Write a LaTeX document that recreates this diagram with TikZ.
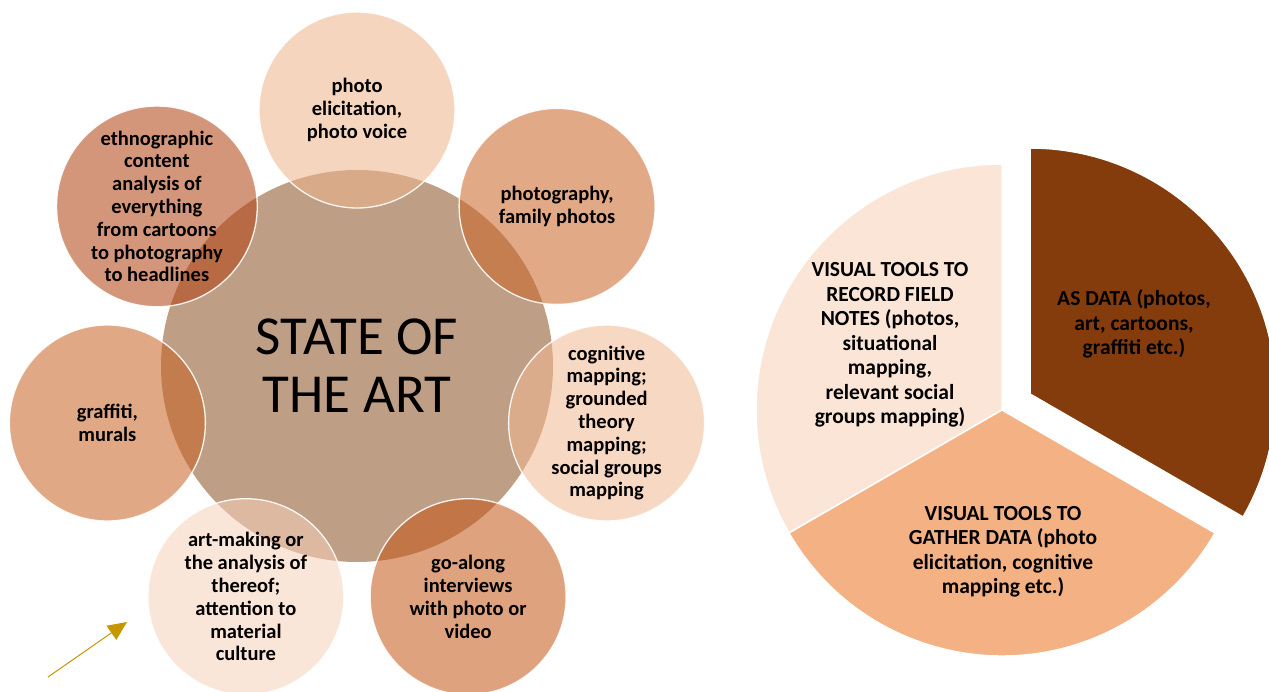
\documentclass[tikz,border=0pt]{standalone}
\usepackage{fontspec}
\setmainfont{Carlito}
\usetikzlibrary{arrows.meta}

% palette
\definecolor{corefill}{HTML}{BF9E86}
\definecolor{cTop}{RGB}{239,180,139}
\definecolor{cPhoto}{RGB}{202,100,35}
\definecolor{cCogn}{RGB}{242,184,144}
\definecolor{cGoAlong}{RGB}{197,86,22}
\definecolor{cArt}{RGB}{246,208,186}
\definecolor{cGraffiti}{RGB}{200,97,31}
\definecolor{cEthno}{RGB}{177,64,13}
\definecolor{pieLight}{HTML}{FBE5D6}
\definecolor{pieMid}{HTML}{F4B183}
\definecolor{pieDark}{HTML}{843C0C}
\definecolor{pointer}{RGB}{198,152,0}

\tikzset{
  core/.style={circle, fill=corefill, minimum size=392pt, inner sep=0pt,
    align=center, font=\fontsize{55}{58}\selectfont},
  satellite/.style={circle, minimum size=196pt, inner sep=0pt, fill=#1,
    fill opacity=0.55, text opacity=1, draw=white, draw opacity=0.9,
    line width=1.3pt, align=center,
    font=\fontsize{20.5}{22.8}\selectfont\bfseries},
  wedge/.style={fill=#1, draw=white, line width=1.5pt},
  wedgetext/.style={align=center, inner sep=0pt,
    font=\fontsize{21.5}{24.5}\selectfont\bfseries},
  pointerline/.style={draw=pointer, line width=1pt,
    -{Triangle[length=19pt,width=17pt]}},
}

\begin{document}
\begin{tikzpicture}[x=1pt,y=-1pt]
\useasboundingbox[fill=white] (0,0) rectangle (1269,692);
\clip (0,0) rectangle (1269,692);

% radial cluster
\node[core] (art) at (357,366) {STATE OF\\THE ART};
\node[satellite=cTop] (elic) at (357,110) {photo\\elicitation,\\photo voice};
\node[satellite=cPhoto] (fam) at (557.1,206.4) {photography,\\family photos};
\node[satellite=cCogn] (cogn) at (606.6,423) {cognitive\\mapping;\\grounded\\theory\\mapping;\\social groups\\mapping};
\node[satellite=cGoAlong] (goal) at (468.1,596.7) {go-along\\interviews\\with photo or\\video};
\node[satellite=cArt] (make) at (245.9,596.7) {art-making or\\the analysis of\\thereof;\\attention to\\material\\culture};
\node[satellite=cGraffiti] (graf) at (107.4,423) {graffiti,\\murals};
\node[satellite=cEthno] (ethno) at (156.9,206.4) {ethnographic\\content\\analysis of\\everything\\from cartoons\\to photography\\to headlines};

% pointer arrow
\coordinate (ptail) at (48,677);
\coordinate (phead) at (127,622);
\draw[pointerline] (ptail) -- (phead);

% pie chart with one exploded slice
\coordinate (pc) at (1002,410);
\coordinate (pd) at (1030,394);
\path[wedge=pieLight] (pc) -- ++(90:246pt) arc[start angle=90, end angle=210, radius=246pt] -- cycle;
\path[wedge=pieMid] (pc) -- ++(210:246pt) arc[start angle=210, end angle=330, radius=246pt] -- cycle;
\path[wedge=pieDark] (pd) -- ++(90:246pt) arc[start angle=90, end angle=-30, radius=246pt] -- cycle;

\node[wedgetext] (record) at (890,345) {VISUAL TOOLS TO\\RECORD FIELD\\NOTES (photos,\\situational\\mapping,\\relevant social\\groups mapping)};
\node[wedgetext] (asdata) at (1134,324) {AS DATA (photos,\\art, cartoons,\\graffiti etc.)};
\node[wedgetext] (gather) at (1003,552) {VISUAL TOOLS TO\\GATHER DATA (photo\\elicitation, cognitive\\mapping etc.)};
\end{tikzpicture}
\end{document}
